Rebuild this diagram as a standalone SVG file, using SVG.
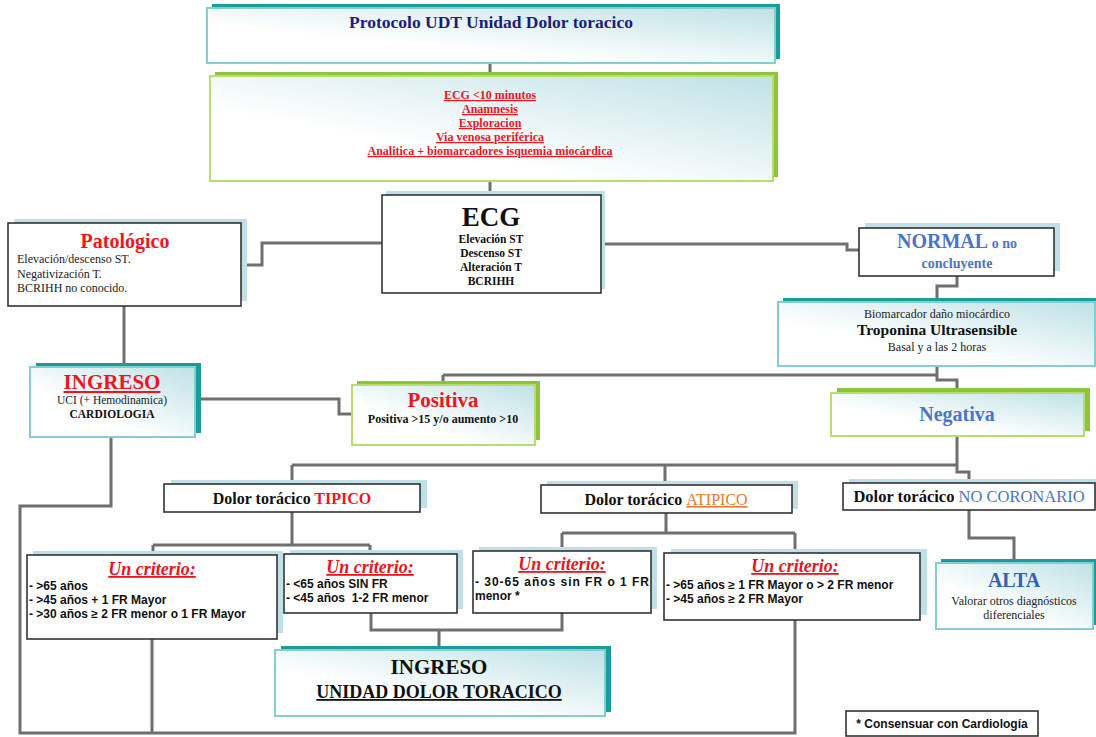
<svg xmlns="http://www.w3.org/2000/svg" width="1096" height="737" viewBox="0 0 1096 737">
<defs>
<linearGradient id="gt" x1="0" y1="1" x2="1" y2="0">
<stop offset="0.35" stop-color="#ffffff"/>
<stop offset="1" stop-color="#bfe1e6"/>
</linearGradient>
<style>
.sf{font-family:"Liberation Serif","Times New Roman",serif}
.ss{font-family:"Liberation Sans",Arial,sans-serif}
.b{font-weight:bold}
.c{text-anchor:middle}
.box{fill:#fff;stroke:#333;stroke-width:1.6}
.gbox{fill:url(#gt);stroke:#86cdd0;stroke-width:2}
.grbox{fill:url(#gt);stroke:#b8dd6e;stroke-width:2}
.shl{fill:#bfe0e4}
.sht{fill:#1a9c9a}
.shg{fill:#8cc43c}
.con{fill:none;stroke:#6f6f6f;stroke-width:3}
.red{fill:#f0141e}
.blue{fill:#4a74c8}
.crit{font-family:"Liberation Serif",serif;font-weight:bold;font-style:italic;font-size:18px;fill:#e8141e;text-decoration:underline;text-anchor:middle}
.it{font-family:"Liberation Sans",Arial,sans-serif;font-weight:bold;font-size:12px;fill:#111}
</style>
</defs>

<g id="connectors">
<path class="con" d="M490,63 V76"/>
<path class="con" d="M490,181 V195"/>
<path class="con" d="M382,243 H262 V265 H241"/>
<path class="con" d="M601,244 H847 V250 H859"/>
<path class="con" d="M957,276 V286 H937 V302"/>
<path class="con" d="M937,366 V375 M443,375 H937 M443,375 V385 M937,375 V380 H957 V393"/>
<path class="con" d="M124,306 V367"/>
<path class="con" d="M195,399 H339 V414 H352"/>
<path class="con" d="M957,436 V465 M292,465 H957 M292,465 V484 M665,465 V485 M957,465 V472 H969 V483"/>
<path class="con" d="M111,437 V506 H20 V733 H795 V620"/>
<path class="con" d="M152,639 V733"/>
<path class="con" d="M292,512 V545 M153,545 H370 M153,545 V555 M370,545 V554"/>
<path class="con" d="M666,513 V533 M562,533 H795 M562,533 V551 M795,533 V553"/>
<path class="con" d="M371,613 V630 H562 V613 M439,630 V650"/>
<path class="con" d="M969,510 V538 H1014 V563"/>
</g>

<g id="titulo">
<rect class="sht" x="212" y="4" width="568" height="55"/>
<rect class="gbox" x="207" y="8" width="568" height="55"/>
<text class="sf b c" x="491" y="28" font-size="17.5" fill="#1c1c7e">Protocolo UDT Unidad Dolor toracico</text>
</g>

<g id="acciones">
<rect class="shg" x="215" y="72" width="563" height="105"/>
<rect class="grbox" x="210" y="76" width="563" height="105"/>
<g class="sf b c" font-size="12" fill="#f0141e" text-decoration="underline">
<text x="490" y="99">ECG &lt;10 minutos</text>
<text x="490" y="113">Anamnesis</text>
<text x="490" y="127">Exploracion</text>
<text x="490" y="141">Via venosa periférica</text>
<text x="490" y="155">Analitica + biomarcadores isquemia miocárdica</text>
</g>
</g>

<g id="ecg">
<rect class="shl" x="386" y="191" width="219" height="98"/>
<rect class="box" x="382" y="195" width="219" height="98"/>
<text class="sf b c" x="491" y="226" font-size="27" fill="#111">ECG</text>
<g class="sf b c" font-size="11.5" fill="#111">
<text x="491" y="243">Elevación ST</text>
<text x="491" y="257">Descenso ST</text>
<text x="491" y="271">Alteración T</text>
<text x="491" y="285">BCRIHH</text>
</g>
</g>

<g id="patologico">
<rect class="shl" x="14" y="219" width="233" height="82"/>
<rect class="box" x="8" y="223" width="233" height="83"/>
<text class="sf b c red" x="125" y="248" font-size="20">Patológico</text>
<g class="sf" font-size="12" fill="#222">
<text x="17" y="263">Elevación/descenso ST.</text>
<text x="17" y="278">Negativización T.</text>
<text x="17" y="292">BCRIHH no conocido.</text>
</g>
</g>

<g id="normal">
<rect class="shl" x="865" y="223" width="195" height="48"/>
<rect class="box" x="859" y="228" width="195" height="48"/>
<text class="sf b c blue" x="957" y="248"><tspan font-size="20">NORMAL</tspan><tspan font-size="14"> o no</tspan></text>
<text class="sf b c blue" x="957" y="268" font-size="14">concluyente</text>
</g>

<g id="troponina">
<rect class="sht" x="783" y="298" width="316" height="64"/>
<rect class="gbox" x="778" y="302" width="317" height="64"/>
<text class="sf c" x="937" y="318" font-size="12" fill="#222">Biomarcador daño miocárdico</text>
<text class="sf b c" x="937" y="335" font-size="15.5" fill="#111">Troponina Ultrasensible</text>
<text class="sf c" x="937" y="351" font-size="12" fill="#222">Basal y a las 2 horas</text>
</g>

<g id="ingreso-uci">
<rect class="sht" x="36" y="363" width="165" height="70"/>
<rect class="gbox" x="30" y="367" width="165" height="70"/>
<text class="sf b c red" x="112" y="389" font-size="21" text-decoration="underline">INGRESO</text>
<text class="sf c" x="112" y="404" font-size="11.5" fill="#222">UCI (+ Hemodinamica)</text>
<text class="sf b c" x="112" y="418" font-size="11.5" fill="#111">CARDIOLOGIA</text>
</g>

<g id="positiva">
<rect class="shg" x="357" y="381" width="183" height="59"/>
<rect class="grbox" x="352" y="385" width="183" height="60"/>
<text class="sf b c red" x="443" y="407" font-size="21">Positiva</text>
<text class="sf b c" x="443" y="423" font-size="12" fill="#111">Positiva &gt;15 y/o aumento &gt;10</text>
</g>

<g id="negativa">
<rect class="shg" x="837" y="388" width="253" height="43"/>
<rect class="grbox" x="831" y="393" width="253" height="43"/>
<text class="sf b c blue" x="957" y="421" font-size="20">Negativa</text>
</g>

<g id="tipico">
<rect class="shl" x="171" y="480" width="256" height="28"/>
<rect class="box" x="164" y="484" width="256" height="28"/>
<text class="sf b c" x="292" y="504" font-size="16" fill="#111">Dolor torácico <tspan fill="#f0141e">TIPICO</tspan></text>
</g>

<g id="atipico">
<rect class="shl" x="547" y="481" width="251" height="28"/>
<rect class="box" x="541" y="485" width="251" height="28"/>
<text class="sf b c" x="666" y="505" font-size="16" fill="#111">Dolor torácico <tspan fill="#ea7a2e" font-weight="normal" text-decoration="underline">ATIPICO</tspan></text>
</g>

<g id="no-coronario">
<rect class="shl" x="849" y="479" width="247" height="27"/>
<rect class="box" x="843" y="483" width="252" height="27"/>
<text class="sf b c" x="969" y="502" font-size="16.5" fill="#111">Dolor torácico <tspan fill="#4a74c8" font-weight="normal">NO CORONARIO</tspan></text>
</g>

<g id="criterio-1">
<rect class="shl" x="33" y="551" width="250" height="82"/>
<rect class="box" x="27" y="555" width="250" height="84"/>
<text class="crit" x="152" y="575">Un criterio:</text>
<text class="it" x="29" y="590">- &gt;65 años</text>
<text class="it" x="29" y="604">- &gt;45 años + 1 FR Mayor</text>
<text class="it" x="29" y="618">- &gt;30 años ≥ 2 FR menor o 1 FR Mayor</text>
</g>

<g id="criterio-2">
<rect class="shl" x="290" y="550" width="173" height="59"/>
<rect class="box" x="284" y="554" width="173" height="59"/>
<text class="crit" x="370" y="573">Un criterio:</text>
<text class="it" x="286" y="588">- &lt;65 años SIN FR</text>
<text class="it" x="286" y="602" xml:space="preserve">- &lt;45 años  1-2 FR menor</text>
</g>

<g id="criterio-3">
<rect class="shl" x="479" y="547" width="178" height="62"/>
<rect class="box" x="473" y="551" width="178" height="62"/>
<text class="crit" x="562" y="570">Un criterio:</text>
<text class="it" x="475" y="586" textLength="174" lengthAdjust="spacing">- 30-65 años sin FR o 1 FR</text>
<text class="it" x="475" y="600">menor *</text>
</g>

<g id="criterio-4">
<rect class="shl" x="671" y="549" width="256" height="66"/>
<rect class="box" x="664" y="553" width="256" height="67"/>
<text class="crit" x="795" y="572">Un criterio:</text>
<text class="it" x="666" y="589">- &gt;65 años ≥ 1 FR Mayor o &gt; 2 FR menor</text>
<text class="it" x="666" y="603">- &gt;45 años ≥ 2 FR Mayor</text>
</g>

<g id="alta">
<rect class="sht" x="941" y="559" width="155" height="66"/>
<rect class="gbox" x="936" y="563" width="157" height="66"/>
<text class="sf b c" x="1014" y="587" font-size="20" fill="#2f62b4">ALTA</text>
<text class="sf c" x="1014" y="605" font-size="12" fill="#222">Valorar otros diagnósticos</text>
<text class="sf c" x="1014" y="619" font-size="12" fill="#222">diferenciales</text>
</g>

<g id="ingreso-udt">
<rect class="sht" x="281" y="646" width="330" height="66"/>
<rect class="gbox" x="275" y="650" width="330" height="66"/>
<text class="sf b c" x="439" y="674" font-size="21" fill="#111">INGRESO</text>
<text class="sf b c" x="439" y="698" font-size="18" fill="#111" text-decoration="underline">UNIDAD DOLOR TORACICO</text>
</g>

<g id="nota">
<rect class="box" x="846" y="711" width="192" height="25"/>
<text class="ss b c" x="942" y="728" font-size="12" fill="#111">* Consensuar con Cardiología</text>
</g>
</svg>
